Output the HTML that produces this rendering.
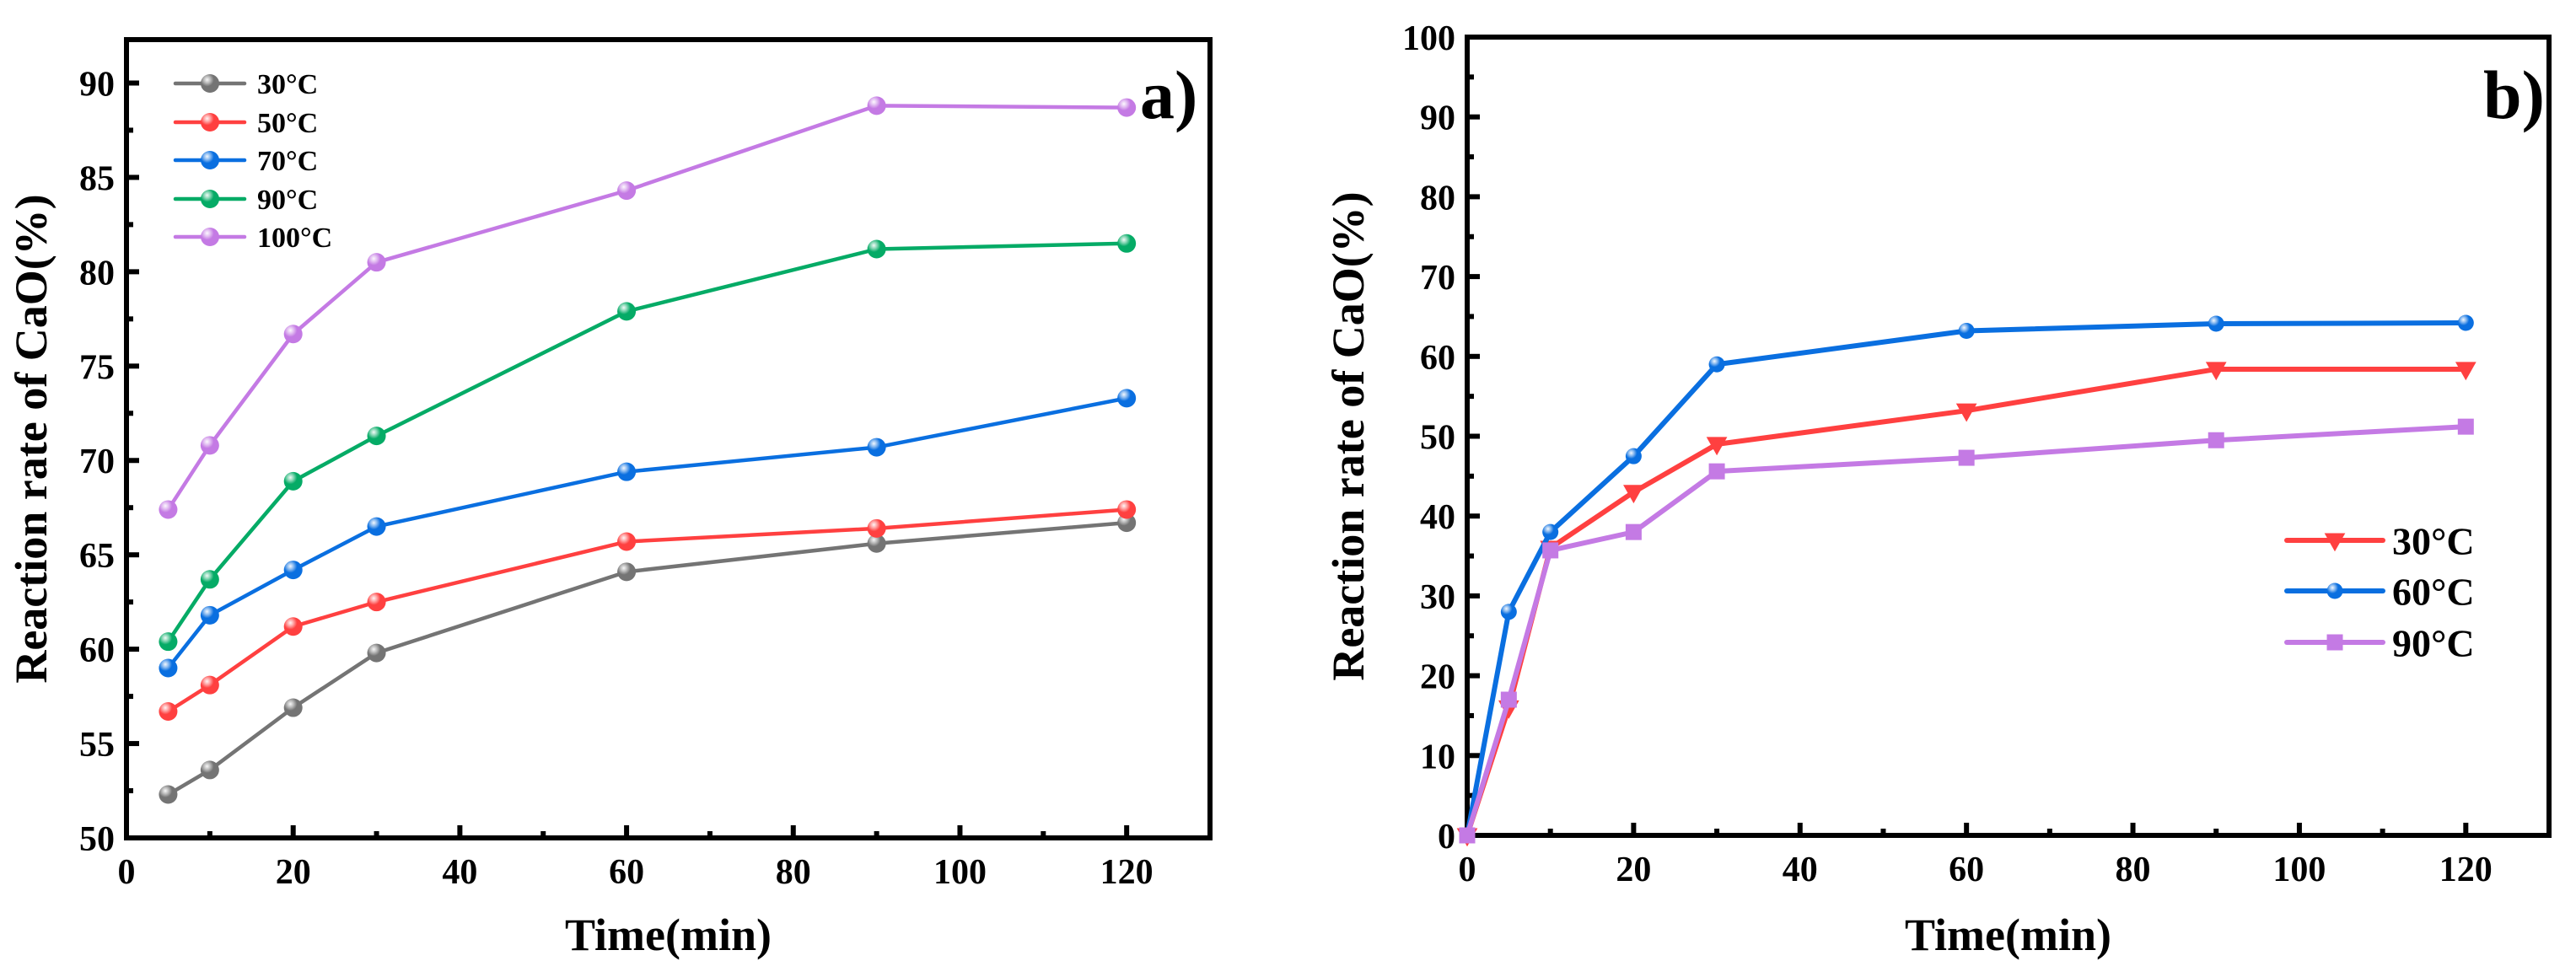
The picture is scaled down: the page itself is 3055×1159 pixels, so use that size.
<!DOCTYPE html>
<html><head><meta charset="utf-8">
<style>
html,body{margin:0;padding:0;background:#fff;}
svg{display:block;}
text{font-family:"Liberation Serif","Times New Roman",serif;font-weight:bold;fill:#000;}
</style></head>
<body>
<svg id="fig" width="3055" height="1159" viewBox="0 0 3055 1159" xmlns="http://www.w3.org/2000/svg">
<defs>
<radialGradient id="shine" cx="0.35" cy="0.3" r="0.6">
<stop offset="0" stop-color="#fff" stop-opacity="0.95"/>
<stop offset="0.3" stop-color="#fff" stop-opacity="0.5"/>
<stop offset="0.6" stop-color="#fff" stop-opacity="0"/>
</radialGradient>
</defs>
</svg>
<script>
// Panel a data
const timesA = [5, 10, 20, 30, 60, 90, 120];
const labelsA = ['30°C', '50°C', '70°C', '90°C', '100°C'];
const colorsA = ['#747474', '#ff4040', '#0a6fe0', '#05ab66', '#c47ae4'];
const rateA30 = [52.3, 53.6, 56.9, 59.8, 64.1, 65.6, 66.7];
const rateA50 = [56.7, 58.1, 61.2, 62.5, 65.7, 66.4, 67.4];
const rateA70 = [59.0, 61.8, 64.2, 66.5, 69.4, 70.7, 73.3];
const rateA90 = [60.4, 63.7, 68.9, 71.3, 77.9, 81.2, 81.5];
const rateA100 = [67.4, 70.8, 76.7, 80.5, 84.3, 88.8, 88.7];
const xTicksA = [0, 20, 40, 60, 80, 100, 120];
const yTicksA = [50, 55, 60, 65, 70, 75, 80, 85, 90];
// Panel b data
const timesB = [0, 5, 10, 20, 30, 60, 90, 120];
const labelsB = ['30°C', '60°C', '90°C'];
const colorsB = ['#ff4040', '#0a6fe0', '#c47ae4'];
const rateB30 = [0, 16, 36, 43, 49, 53.2, 58.4, 58.4];
const rateB60 = [0, 28, 38, 47.5, 59, 63.2, 64.1, 64.2];
const rateB90 = [0, 17, 35.7, 38, 45.6, 47.3, 49.5, 51.2];
const xTicksB = [0, 20, 40, 60, 80, 100, 120];
const yTicksB = [0, 10, 20, 30, 40, 50, 60, 70, 80, 90, 100];

const NS = 'http://www.w3.org/2000/svg';
const svg = document.getElementById('fig');
function mk(tag, attrs, parent, txt){
  const e = document.createElementNS(NS, tag);
  for (const k in attrs) e.setAttribute(k, attrs[k]);
  if (txt !== undefined) e.textContent = txt;
  (parent || svg).appendChild(e);
  return e;
}

function panel(cfg){
  const g = mk('g', {});
  
  
  const sx = v => cfg.x0 + (v - cfg.xmin) / (cfg.xmax - cfg.xmin) * (cfg.x1 - cfg.x0);
  const sy = v => cfg.y0 - (v - cfg.ymin) / (cfg.ymax - cfg.ymin) * (cfg.y0 - cfg.y1);
  const tg = mk('g', {}, g);
  
  
  cfg.xticks.forEach((t) => {
    const x = sx(t);
    mk('line', {x1:x, x2:x, y1:cfg.y0, y2:cfg.y0-15, stroke:'#000','stroke-width':6}, tg);
    const lb = mk('text', {x:x, y:cfg.y0+54, 'font-size':42, 'text-anchor':'middle'}, tg, String(t));
    
    
    const m = sx(t + (cfg.xticks[1]-cfg.xticks[0])/2);
    if (m < cfg.x1 - 5) mk('line', {x1:m, x2:m, y1:cfg.y0, y2:cfg.y0-8, stroke:'#000','stroke-width':6}, tg);
  });
  const yg = mk('g', {}, g);
  
  
  const ystep = cfg.yticks[1]-cfg.yticks[0];
  cfg.yticks.forEach(t => {
    const y = sy(t);
    mk('line', {x1:cfg.x0, x2:cfg.x0+15, y1:y, y2:y, stroke:'#000','stroke-width':6}, yg);
    const lb = mk('text', {x:cfg.x0-14, y:y+15, 'font-size':42, 'text-anchor':'end'}, yg, String(t));
    
    
    const m = sy(t + ystep/2);
    if (m > cfg.y1 + 5) mk('line', {x1:cfg.x0, x2:cfg.x0+8, y1:m, y2:m, stroke:'#000','stroke-width':6}, yg);
  });
  const fr = mk('rect', {x:cfg.x0, y:cfg.y1, width:cfg.x1-cfg.x0, height:cfg.y0-cfg.y1, fill:'none', stroke:'#000', 'stroke-width':6}, g);
  
  
  const xt = mk('text', {x:(cfg.x0+cfg.x1)/2, y:1127, 'font-size':54, 'text-anchor':'middle'}, g, 'Time(min)');
  
  
  const yt = mk('text', {x:0, y:0, 'font-size':54, 'text-anchor':'middle', transform:`translate(${cfg.ytx},${(cfg.y0+cfg.y1)/2}) rotate(-90)`}, g, 'Reaction rate of CaO(%)');
  
  
  const pl = mk('text', {x:cfg.plx, y:140, 'font-size':82}, g, cfg.plabel);
  
  

  function marker(par, kind, x, y, col, s){
    if (kind === 'circle') {
      mk('circle', {cx:x, cy:y, r:s, fill:col}, par);
      mk('circle', {cx:x, cy:y, r:s, fill:'url(#shine)'}, par);
    } else if (kind === 'square') {
      mk('rect', {x:x-s, y:y-s, width:2*s, height:2*s, fill:col}, par);
    } else {
      mk('polygon', {points:`${x-s*1.3},${y-s*0.9} ${x+s*1.3},${y-s*0.9} ${x},${y+s*1.4}`, fill:col}, par);
    }
  }
  cfg.series.forEach((s, si) => {
    const sg = mk('g', {}, g);
    
    
    const pts = cfg.times.map((t, i) => sx(t) + ',' + sy(s.vals[i])).join(' ');
    mk('polyline', {points:pts, fill:'none', stroke:s.color, 'stroke-width':cfg.lw, 'stroke-linejoin':'round'}, sg);
    cfg.times.forEach((t, i) => {
      const mg = mk('g', {}, sg);
      
      
      marker(mg, s.kind, sx(t), sy(s.vals[i]), s.color, cfg.ms);
    });
    const lg = mk('g', {}, g);
    
    
    const ly = cfg.leg.y[si];
    mk('line', {x1:cfg.leg.x1, x2:cfg.leg.x2, y1:ly, y2:ly, stroke:s.color, 'stroke-width':cfg.lw, 'stroke-linecap':'round'}, lg);
    marker(lg, s.kind, (cfg.leg.x1+cfg.leg.x2)/2, ly, s.color, cfg.ms);
    mk('text', {x:cfg.leg.tx, y:ly+cfg.leg.fs*0.36, 'font-size':cfg.leg.fs}, lg, s.label);
  });
}

const seriesA = [rateA30, rateA50, rateA70, rateA90, rateA100];
panel({
  name:'panel-a', x0:150, x1:1435, y0:994, y1:47, xmin:0, xmax:130, ymin:50, ymax:92.3,
  xticks:xTicksA, yticks:yTicksA, times:timesA, ytx:55, plx:1352, plabel:'a)', lw:4.5, ms:11,
  series: seriesA.map((v, i) => ({vals:v, label:labelsA[i], color:colorsA[i], kind:'circle'})),
  leg:{x1:208, x2:290, tx:305, fs:34, y:[99, 145, 190, 236, 281]}
});
const seriesB = [rateB30, rateB60, rateB90];
const kindsB = ['tri', 'circle', 'square'];
panel({
  name:'panel-b', x0:1740, x1:3023, y0:991, y1:44, xmin:0, xmax:130, ymin:0, ymax:100,
  xticks:xTicksB, yticks:yTicksB, times:timesB, ytx:1617, plx:2945, plabel:'b)', lw:6, ms:9.5,
  series: seriesB.map((v, i) => ({vals:v, label:labelsB[i], color:colorsB[i], kind:kindsB[i]})),
  leg:{x1:2712, x2:2826, tx:2837, fs:46, y:[641, 701, 762]}
});
</script>
</body></html>
